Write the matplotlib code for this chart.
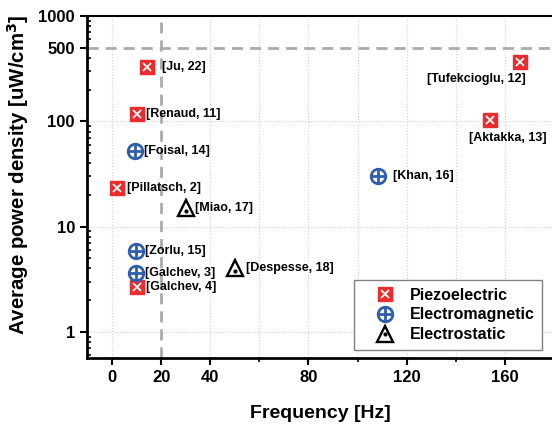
import matplotlib
matplotlib.use("Agg")
import matplotlib.pyplot as plt
from matplotlib.lines import Line2D
from matplotlib.transforms import ScaledTranslation

plt.rcParams['font.family'] = ['Liberation Sans', 'DejaVu Sans']
plt.rcParams['font.weight'] = 'bold'

# ---- data ----
piezo_names = ['[Ju, 22]', '[Renaud, 11]', '[Pillatsch, 2]', '[Galchev, 4]',
               '[Tufekcioglu, 12]', '[Aktakka, 13]']
piezo_freq = [14.4, 10.2, 2.2, 10, 166, 154]
piezo_power = [330, 118, 23.5, 2.65, 365, 102]

em_names = ['[Foisal, 14]', '[Zorlu, 15]', '[Galchev, 3]', '[Khan, 16]']
em_freq = [9.2, 9.8, 9.8, 108.3]
em_power = [52, 5.9, 3.65, 30]

es_names = ['[Miao, 17]', '[Despesse, 18]']
es_freq = [30, 50]
es_power = [15, 4.05]

xticks_major = [0, 20, 40, 80, 120, 160]
xticks_minor = [60, 100, 140]
yticks = [1, 10, 100, 500, 1000]

RED = '#EC2B2E'
BLUE = '#2F5EAD'

fig = plt.figure(figsize=(5.52, 4.24), dpi=100)
ax = fig.add_axes([87.4/552, 1-358/424, (554-87.4)/552, 342/424])

ax.set_yscale('log')
ax.set_xlim(-10, 180)
ax.set_ylim(0.565, 1000)

# grid
for xv in [0, 40, 60, 80, 100, 120, 140, 160]:
    ax.axvline(xv, color='#D0D0D0', ls=':', lw=0.8, zorder=0)
for yv in [1, 10, 100]:
    ax.axhline(yv, color='#D0D0D0', ls=':', lw=0.8, zorder=0)

# reference dashed lines
ax.axhline(500, color='#ABABAB', ls=(0, (4, 2.5)), lw=2, zorder=1)
ax.axvline(20, color='#ABABAB', ls=(0, (4, 2.5)), lw=2, zorder=1)

# piezo markers
ax.plot(piezo_freq, piezo_power, ls='none', marker='s', ms=9.5, mfc=RED, mec=RED, zorder=3)
ax.plot(piezo_freq, piezo_power, ls='none', marker='x', ms=6, mec='white', mew=1.3, zorder=4)
# electromagnetic markers
ax.plot(em_freq, em_power, ls='none', marker='o', ms=10.5, mfc='none', mec=BLUE, mew=2, zorder=3)
ax.plot(em_freq, em_power, ls='none', marker='+', ms=10.5, mec=BLUE, mew=2, zorder=3)
# electrostatic markers
ax.plot(es_freq, es_power, ls='none', marker='^', ms=12, mfc='none', mec='black', mew=1.7, zorder=3)
dot_tr = ax.transData + ScaledTranslation(0, -2.0/72, fig.dpi_scale_trans)
ax.plot(es_freq, es_power, ls='none', marker='o', ms=2, mfc='black', mec='black', zorder=3,
        transform=dot_tr)

# labels
px = 0.72
offsets = {
    '[Ju, 22]': (15, 0, 'left'),
    '[Renaud, 11]': (9, 0, 'left'),
    '[Pillatsch, 2]': (10, 0, 'left'),
    '[Galchev, 4]': (9, 0, 'left'),
    '[Tufekcioglu, 12]': (-43, -17, 'center'),
    '[Aktakka, 13]': (18, -18, 'center'),
    '[Foisal, 14]': (9, 0, 'left'),
    '[Zorlu, 15]': (9, 0, 'left'),
    '[Galchev, 3]': (9, 0, 'left'),
    '[Khan, 16]': (15, 0, 'left'),
    '[Miao, 17]': (9, 0, 'left'),
    '[Despesse, 18]': (11, 0, 'left'),
}
for names, fx, fy in [(piezo_names, piezo_freq, piezo_power),
                      (em_names, em_freq, em_power),
                      (es_names, es_freq, es_power)]:
    for n, x, y in zip(names, fx, fy):
        dx, dy, ha = offsets[n]
        ax.annotate(n, (x, y), xytext=(dx*px, dy*px), textcoords='offset points',
                    ha=ha, va='center', fontsize=9, fontweight='bold', zorder=5)

# spines
ax.spines['right'].set_visible(False)
ax.spines['left'].set_linewidth(2)
ax.spines['bottom'].set_linewidth(2)
ax.spines['top'].set_linewidth(1.5)

ax.set_xticks(xticks_major)
ax.set_xticklabels([str(v) for v in xticks_major])
ax.set_xticks(xticks_minor, minor=True)
ax.set_yticks(yticks)
ax.set_yticklabels([str(v) for v in yticks])
ax.tick_params(axis='both', which='major', direction='out', length=5, width=1.5,
               labelsize=12, pad=4)
ax.tick_params(axis='x', which='minor', direction='out', length=3, width=1.2)
ax.tick_params(axis='y', which='minor', direction='in', length=3, width=1.2)
for lab in ax.get_xticklabels() + ax.get_yticklabels():
    lab.set_fontweight('bold')

ax.set_xlabel('Frequency [Hz]', fontsize=14, fontweight='bold', labelpad=14)
ax.set_ylabel('Average power density [uW/cm$^\\mathbf{3}$]', fontsize=14.7, fontweight='bold')
ax.yaxis.set_label_coords(-0.12, 0.535)

# legend
h_p = (Line2D([], [], ls='none', marker='s', ms=9.5, mfc=RED, mec=RED),
       Line2D([], [], ls='none', marker='x', ms=6, mec='white', mew=1.3))
h_e = (Line2D([], [], ls='none', marker='o', ms=10.5, mfc='none', mec=BLUE, mew=2),
       Line2D([], [], ls='none', marker='+', ms=10.5, mec=BLUE, mew=2))
h_s = (Line2D([], [], ls='none', marker='^', ms=12, mfc='none', mec='black', mew=1.7),
       Line2D([], [], ls='none', marker='o', ms=2, mfc='black', mec='black'))
leg = ax.legend([h_p, h_e, h_s], ['Piezoelectric', 'Electromagnetic', 'Electrostatic'],
                loc='lower right', bbox_to_anchor=(0.975, 0.023), borderaxespad=0,
                fancybox=False, edgecolor='#808080', framealpha=1,
                prop={'size': 11.5, 'weight': 'bold'}, handletextpad=0.15,
                labelspacing=0.3, borderpad=0.5, handlelength=2.8)
leg.get_frame().set_linewidth(1.0)

fig.savefig('out.png', dpi=100)
